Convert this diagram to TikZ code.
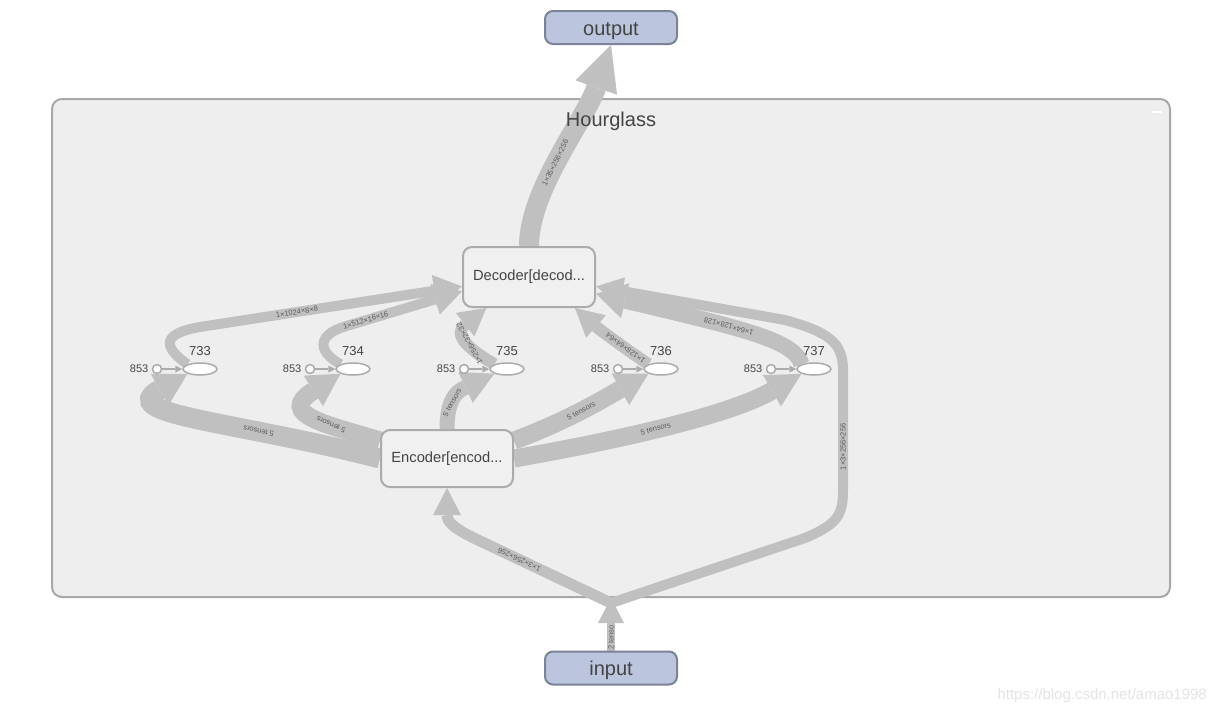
\documentclass[tikz,border=0pt]{standalone}
\usepackage{fontspec}
\setmainfont{Liberation Sans}
\usetikzlibrary{arrows.meta,shapes.geometric,calc}
\definecolor{edgegray}{HTML}{C0C0C0}
\definecolor{grpfill}{HTML}{EEEEEE}
\definecolor{grpline}{HTML}{A8A8A8}
\definecolor{opfill}{HTML}{F0F0F0}
\definecolor{opline}{HTML}{ABABAB}
\definecolor{iofill}{HTML}{BBC5DE}
\definecolor{ioline}{HTML}{7C8396}
\definecolor{txt}{HTML}{444444}
\definecolor{lbltxt}{HTML}{5A5A5A}
\definecolor{wm}{HTML}{E4E4E4}
\pgfdeclarelayer{grp}
\pgfdeclarelayer{edges}
\pgfsetlayers{grp,edges,main}
\tikzset{
  io/.style={draw=ioline, fill=iofill, line width=2pt, rounded corners=8pt,
    minimum width=132pt, minimum height=33pt, inner sep=0pt, text=txt,
    text height=17pt, text depth=2pt,
    font=\fontsize{20}{24}\selectfont},
  opbox/.style={draw=opline, fill=opfill, line width=2pt, rounded corners=9pt,
    minimum width=132pt, inner sep=0pt, text=txt, font=\fontsize{14.7}{17}\selectfont},
  ell/.style={ellipse, draw=opline, fill=white, line width=1.5pt,
    minimum width=34pt, minimum height=12pt, inner sep=0pt},
  src/.style={circle, draw=opline, fill=white, line width=1.5pt,
    minimum size=9pt, inner sep=0pt},
  numlbl/.style={text=txt, font=\fontsize{13}{15}\selectfont, inner sep=0pt},
  srclbl/.style={text=txt, font=\fontsize{11}{13}\selectfont, inner sep=0pt},
  flow/.style={draw=edgegray, line width=#1},
  arrhead/.style 2 args={-{Triangle[length=#1,width=#2,line width=0pt]}},
  lbl/.style={sloped, allow upside down, text=lbltxt,
    font=\fontsize{7.5}{8}\selectfont, inner sep=0pt},
  thinarrow/.style={draw=opline, line width=1.3pt,
    -{Triangle[length=7pt,width=7pt,line width=0pt]}},
}
\begin{document}
\begin{tikzpicture}[x=1pt,y=-1pt]
\useasboundingbox (0,0) rectangle (1215,715);

% group
\begin{pgfonlayer}{grp}
\fill[white] (0,0) rectangle (1215,715);
\node[draw=grpline, fill=grpfill, line width=2pt, rounded corners=10pt,
  minimum width=1118pt, minimum height=498pt, inner sep=0pt] (hg) at (611,348) {};
\end{pgfonlayer}
\node[text=txt, font=\fontsize{20}{24}\selectfont, inner sep=0pt] (hgt) at (611,121) {Hourglass};
\node[fill=white, minimum width=10pt, minimum height=2pt, inner sep=0pt] (collapse) at (1157,112) {};

% main nodes
\node[io] (output) at (611,27.5) {output};
\node[io] (input) at (611,668) {input};
\node[opbox, minimum height=60pt] (dec) at (529,277) {Decoder[decod...};
\node[opbox, minimum height=57pt] (enc) at (447,458.5) {Encoder[encod...};

\foreach \n/\x in {733/200,734/353,735/507,736/661,737/814}{
  \node[ell] (e\n) at (\x,369) {};
  \node[numlbl] (l\n) at (\x,351) {\n};
  \node[src] (s\n) at (\x-43,369) {};
  \node[srclbl, anchor=east] (t\n) at (\x-51.5,369) {853};
  \draw[thinarrow] (s\n) -- (e\n);
}

\coordinate (jtop) at (611,598);
\coordinate (jl) at (611,603);

\begin{pgfonlayer}{edges}
% input stem
\draw[flow=8pt, arrhead={25pt}{26pt}] (input.north) -- node[lbl, pos=0.25]{2 tenso} (jtop);
% input -> encoder
\draw[flow=11pt, arrhead={27pt}{28pt}] (jl) -- node[lbl, pos=0.69]{1×3×256×256} (478,540)
   .. controls (450,527) and (447,520) .. (enc.south);
% input -> decoder (right)
\draw[flow=10pt, arrhead={27pt}{28pt}] (jl) -- (805,538) .. controls (838,524) and (843,515) .. (843,490)
   -- node[lbl, pos=0.36]{1×3×256×256} (843,370)
   .. controls (843,342) and (828,332) .. (785,320) -- (dec.-8);
% decoder -> output
\draw[flow=20pt, arrhead={45pt}{44pt}] (dec.north) .. controls (529,190) and (585,120) ..
   node[lbl, pos=0.45]{1×35×256×256} (output.south);
% encoder -> ellipses
\draw[flow=20pt, arrhead={32pt}{36pt}] (enc.west) .. controls (230,420) and (115,415) ..
   node[lbl, pos=0.3]{5 tensors} (e733.south west);
\draw[flow=18pt, arrhead={32pt}{36pt}] (enc.165) .. controls (330,425) and (275,415) ..
   node[lbl, pos=0.35]{5 tensors} (e734.south west);
\draw[flow=15pt, arrhead={32pt}{34pt}] (enc.north) .. controls (447,395) and (460,390) ..
   node[lbl, pos=0.35]{5 tensors} (e735.south west);
\draw[flow=18pt, arrhead={32pt}{36pt}] (enc.15) .. controls (570,420) and (610,395) ..
   node[lbl, pos=0.45]{5 tensors} (e736.south west);
\draw[flow=18pt, arrhead={34pt}{36pt}] (enc.east) .. controls (620,440) and (730,415) ..
   node[lbl, pos=0.45]{5 tensors} (e737.south west);
% ellipses -> decoder
\draw[flow=10pt, arrhead={28pt}{32pt}] (e733.north west) .. controls (160,345) and (165,333) .. (200,327)
   -- node[lbl, pos=0.37]{1×1024×8×8} (dec.188);
\draw[flow=10pt, arrhead={28pt}{32pt}] (e734.north west) .. controls (315,350) and (318,333) .. (350,325)
   -- node[lbl, pos=0.14]{1×512×16×16} (dec.192);
\draw[flow=12pt, arrhead={27pt}{30pt}] (e735.north west) .. controls (470,350) and (452,335) ..
   node[lbl, pos=0.45]{1×256×32×32} (dec.216);
\draw[flow=12pt, arrhead={28pt}{30pt}] (e736.north west) .. controls (630,352) and (600,330) ..
   node[lbl, pos=0.35]{1×128×64×64} (dec.-34);
\draw[flow=16pt, arrhead={30pt}{36pt}] (e737.north west) .. controls (795,340) and (740,328) ..
   node[lbl, pos=0.6]{1×64×128×128} (dec.-14);
\end{pgfonlayer}

\node[anchor=east, text=wm, font=\fontsize{15}{18}\selectfont, inner sep=0pt] (wmk) at (1207,696) {https://blog.csdn.net/amao1998};
\end{tikzpicture}
\end{document}
